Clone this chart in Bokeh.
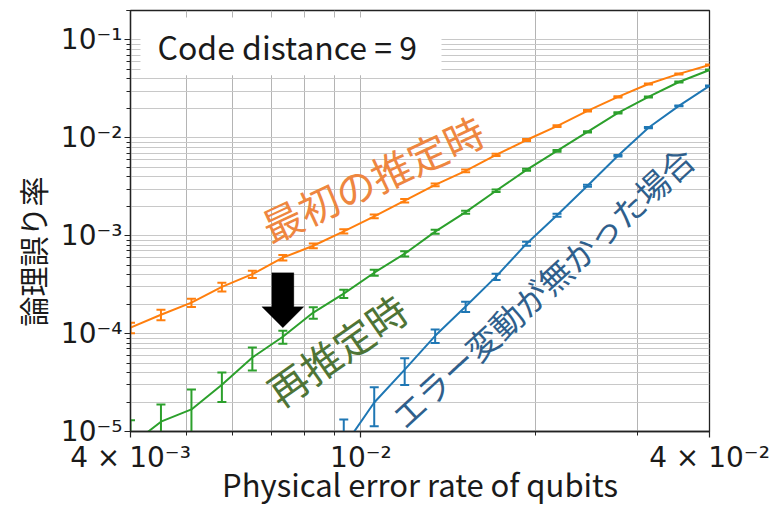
import math
import numpy as np
from bokeh.plotting import figure
from bokeh.models import FixedTicker, Label, Range1d, PolyAnnotation, BoxAnnotation, Title
from bokeh.embed import file_html
from bokeh.resources import INLINE

# Physical error rate of the qubits (x) and logical error rate (y) with
# absolute error-bar half-widths for the three decoder settings.
ERROR_RATE = [0.004000, 0.004515, 0.005097, 0.005753, 0.006494, 0.007331,
              0.008275, 0.009341, 0.010544, 0.011902, 0.013435, 0.015166,
              0.017119, 0.019324, 0.021813, 0.024623, 0.027794, 0.031374,
              0.035415, 0.040000]

# 最初の推定時 (initial estimate)
INITIAL = [1.15e-4, 1.56e-4, 2.07e-4, 3.0e-4, 4.05e-4, 5.97e-4, 7.9e-4,
           1.11e-3, 1.58e-3, 2.28e-3, 3.31e-3, 4.6e-3, 6.7e-3, 9.5e-3,
           1.32e-2, 1.89e-2, 2.62e-2, 3.55e-2, 4.5e-2, 5.56e-2]
INITIAL_ERR = [1.4e-5, 1.9e-5, 2.0e-5, 3.0e-5, 3.5e-5, 4.0e-5, 4.5e-5,
               5.5e-5, 7.0e-5, 9.0e-5, 1.1e-4, 1.4e-4, 1.8e-4, 2.2e-4,
               2.7e-4, 3.3e-4, 4.0e-4, 4.6e-4, 5.2e-4, 5.8e-4]

# 再推定時 (re-estimated)
REESTIMATED = [7.2e-6, 1.26e-5, 1.68e-5, 3.0e-5, 5.7e-5, 9.3e-5, 1.64e-4,
               2.56e-4, 4.19e-4, 6.55e-4, 1.10e-3, 1.74e-3, 2.88e-3, 4.71e-3,
               7.36e-3, 1.15e-2, 1.80e-2, 2.62e-2, 3.72e-2, 4.94e-2]
REESTIMATED_ERR = [5.8e-6, 6.3e-6, 1.0e-5, 1.0e-5, 1.5e-5, 1.4e-5, 2.2e-5,
                   2.5e-5, 3.0e-5, 4.0e-5, 5.0e-5, 6.5e-5, 8.5e-5, 1.1e-4,
                   1.4e-4, 1.8e-4, 2.6e-4, 3.2e-4, 3.8e-4, 4.4e-4]

# エラー変動が無かった場合 (no drift), visible from the 8th error rate on
NO_DRIFT_RATE = ERROR_RATE[7:]
NO_DRIFT = [7.0e-6, 1.98e-5, 4.29e-5, 9.5e-5, 1.89e-4, 3.82e-4, 8.3e-4,
            1.62e-3, 3.24e-3, 6.55e-3, 1.27e-2, 2.12e-2, 3.39e-2]
NO_DRIFT_ERR = [6.3e-6, 8.5e-6, 1.3e-5, 1.5e-5, 2.3e-5, 2.8e-5, 4.0e-5,
                6.0e-5, 8.0e-5, 1.2e-4, 1.7e-4, 2.3e-4, 3.0e-4]

X_TICKS = [0.004, 0.01, 0.04]
X_TICK_LABELS = ["4 × 10⁻³", "10⁻²", "4 × 10⁻²"]
X_MINOR_TICKS = [0.005, 0.006, 0.007, 0.008, 0.009, 0.02, 0.03]
Y_TICKS = [1e-5, 1e-4, 1e-3, 1e-2, 1e-1]
Y_TICK_LABELS = ["10⁻⁵", "10⁻⁴", "10⁻³", "10⁻²", "10⁻¹"]
Y_MINOR_TICKS = [m * 10.0 ** e for e in range(-5, 0) for m in range(2, 10)] + [0.2]

X_MIN, X_MAX = 0.004, 0.04
Y_MIN, Y_MAX = 1e-5, 0.2

BLUE, ORANGE, GREEN = "#1f77b4", "#ff7f0e", "#2ca02c"
JP_FONT = "Noto Sans CJK JP"
NUM_FONT = "DejaVu Sans"

# frame geometry in page pixels
W, H = 772, 508
F_LEFT, F_RIGHT, F_TOP, F_BOTTOM = 130, 709, 10, 432


def px_x(xp):
    """page pixel column -> data x (log scale)"""
    lo, hi = math.log10(X_MIN), math.log10(X_MAX)
    return 10 ** (lo + (xp - F_LEFT) / (F_RIGHT - F_LEFT) * (hi - lo))


def px_y(yp):
    """page pixel row -> data y (log scale)"""
    lo, hi = math.log10(Y_MIN), math.log10(Y_MAX)
    return 10 ** (lo + (F_BOTTOM - yp) / (F_BOTTOM - F_TOP) * (hi - lo))


def data_px(x, y):
    lx0, lx1 = math.log10(X_MIN), math.log10(X_MAX)
    ly0, ly1 = math.log10(Y_MIN), math.log10(Y_MAX)
    xp = F_LEFT + (math.log10(x) - lx0) / (lx1 - lx0) * (F_RIGHT - F_LEFT)
    yp = F_BOTTOM - (math.log10(y) - ly0) / (ly1 - ly0) * (F_BOTTOM - F_TOP)
    return xp, yp


p = figure(width=W, height=H, x_axis_type="log", y_axis_type="log",
           x_range=Range1d(X_MIN, X_MAX), y_range=Range1d(Y_MIN, Y_MAX),
           output_backend="svg", toolbar_location=None,
           min_border_left=F_LEFT, min_border_right=W - F_RIGHT,
           min_border_top=F_TOP, min_border_bottom=H - F_BOTTOM)
p.background_fill_color = "white"
p.border_fill_color = "white"
p.outline_line_color = "#222222"
p.outline_line_width = 1.3

xt = FixedTicker(ticks=X_TICKS, minor_ticks=X_MINOR_TICKS)
yt = FixedTicker(ticks=Y_TICKS, minor_ticks=Y_MINOR_TICKS)
p.xaxis.ticker = xt
p.yaxis.ticker = yt
p.xgrid.ticker = xt
p.ygrid.ticker = yt
p.xaxis.major_label_overrides = dict(zip(X_TICKS, X_TICK_LABELS))
p.yaxis.major_label_overrides = dict(zip(Y_TICKS, Y_TICK_LABELS))

for ax in (p.xaxis, p.yaxis):
    ax.axis_line_color = "#222222"
    ax.axis_line_width = 1.3
    ax.major_tick_line_color = "#222222"
    ax.minor_tick_line_color = "#222222"
    ax.major_tick_line_width = 1.2
    ax.minor_tick_line_width = 1
    ax.major_tick_in = 0
    ax.minor_tick_in = 0
    ax.major_tick_out = 6
    ax.minor_tick_out = 4
    ax.major_label_text_font = NUM_FONT
    ax.major_label_text_font_size = "28px"
    ax.major_label_text_color = "#1a1a1a"

p.xaxis.major_label_standoff = 3
p.yaxis.major_label_standoff = 2
p.xaxis.axis_label = "Physical error rate of qubits"
p.xaxis.axis_label_text_font = JP_FONT
p.xaxis.axis_label_text_font_size = "31px"
p.xaxis.axis_label_text_font_style = "normal"
p.xaxis.axis_label_text_color = "#1a1a1a"
p.xaxis.axis_label_standoff = -16

p.add_layout(Title(text="論理誤り率", align="left", offset=105, standoff=4,
                   vertical_align="top",
                   text_font=JP_FONT, text_font_size="30px", text_font_style="normal",
                   text_color="#1a1a1a"), "left")

p.xgrid.grid_line_color = "#b4b4b4"
p.xgrid.minor_grid_line_color = "#b4b4b4"
p.ygrid.grid_line_color = "#c8c8c8"
p.ygrid.minor_grid_line_color = "#c8c8c8"
for g in (p.xgrid, p.ygrid):
    g.grid_line_width = 1
    g.minor_grid_line_width = 1


def draw_series(x, y, err, color):
    x = np.asarray(x)
    y = np.asarray(y)
    err = np.asarray(err)
    lo, hi = y - err, y + err
    p.line(x, y, line_color=color, line_width=2)
    p.segment(x0=x, y0=lo, x1=x, y1=hi, line_color=color, line_width=2)
    p.scatter(x, hi, marker="dash", size=9, line_color=color, line_width=2)
    p.scatter(x, lo, marker="dash", size=9, line_color=color, line_width=2)


draw_series(NO_DRIFT_RATE, NO_DRIFT, NO_DRIFT_ERR, BLUE)
draw_series(ERROR_RATE, INITIAL, INITIAL_ERR, ORANGE)
draw_series(ERROR_RATE, REESTIMATED, REESTIMATED_ERR, GREEN)

# legend-style title box in the upper left corner
p.add_layout(BoxAnnotation(left=px_x(140), right=px_x(441), top=px_y(17), bottom=px_y(75),
                           fill_color="white", fill_alpha=1, line_color=None))
p.add_layout(Label(x=px_x(157), y=px_y(46), text="Code distance = 9",
                   text_align="left", text_baseline="middle",
                   text_font=JP_FONT, text_font_size="32px", text_color="#1a1a1a"))

# curve annotations
p.add_layout(Label(x=px_x(372), y=px_y(178), text="最初の推定時", angle=math.radians(25),
                   text_align="center", text_baseline="middle",
                   text_font=JP_FONT, text_font_size="40px", text_color="#ee8640"))
p.add_layout(Label(x=px_x(336), y=px_y(350), text="再推定時", angle=math.radians(35),
                   text_align="center", text_baseline="middle",
                   text_font=JP_FONT, text_font_size="40px", text_color="#4e7436"))
p.add_layout(Label(x=px_x(542), y=px_y(287), text="エラー変動が無かった場合",
                   angle=math.radians(42.5),
                   text_align="center", text_baseline="middle",
                   text_font=JP_FONT, text_font_size="33px", text_color="#2f5f8c"))

# block arrow pointing down at the re-estimated curve
tip_x, tip_y = data_px(ERROR_RATE[5], REESTIMATED[5])
tip_y -= 9
shape = [(-11, -55), (11, -55), (11, -21), (21, -21), (0, 0), (-21, -21), (-11, -21)]
p.add_layout(PolyAnnotation(xs=[px_x(tip_x + dx) for dx, dy in shape],
                            ys=[px_y(tip_y + dy) for dx, dy in shape],
                            fill_color="black", fill_alpha=1, line_color="black"))

open("out.html", "w").write(file_html(p, INLINE))
